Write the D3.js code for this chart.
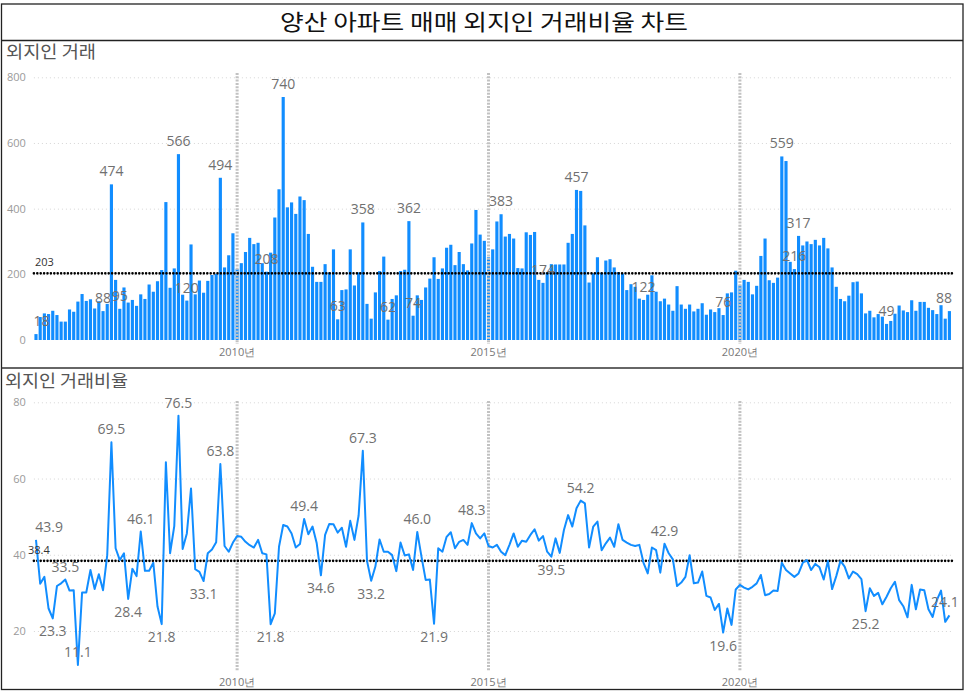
<!DOCTYPE html>
<html><head><meta charset="utf-8">
<script src="https://cdn.jsdelivr.net/npm/d3@7"></script>
<style>
body{margin:0;background:#fff;}
svg{display:block;}
</style></head>
<body>
<svg id="c" width="966" height="692"></svg>
<script>
// ---------- data ----------
const chartTitle = "양산 아파트 매매 외지인 거래비율 차트";
const panel1Title = "외지인 거래";
const panel2Title = "외지인 거래비율";
const startMonth = "2006-01";
const countValues = [18,70,81,79,89,76,56,56,93,86,117,140,119,124,96,118,88,110,474,183,95,160,114,122,104,139,125,169,147,179,213,420,159,218,566,138,120,291,139,181,144,180,198,201,494,221,258,325,216,234,268,311,
292,296,234,208,266,373,459,740,404,419,384,437,426,323,223,177,177,231,206,276,63,152,154,276,166,206,358,110,65,145,210,254,62,125,136,210,214,362,74,136,122,160,187,252,186,218,281,290,228,268,231,212,294,396,321,302,252,
276,361,383,315,323,309,219,218,328,320,329,183,174,206,231,230,230,230,296,323,457,454,349,175,203,252,205,242,246,221,207,202,152,170,162,126,122,138,197,147,118,126,108,89,164,108,95,108,87,95,112,77,93,85,97,76,142,
145,211,166,183,177,139,165,256,309,182,174,190,559,545,238,216,317,288,300,292,305,288,311,279,221,162,125,118,135,176,178,142,81,89,69,79,71,49,58,80,105,90,85,121,89,116,116,98,91,79,106,65,88];
const ratioValues = [43.9,32.4,34.2,25.9,23.3,31.8,32.5,33.5,30.6,30.7,11.1,30.1,30.1,36.0,31.0,34.9,30.7,39.9,69.5,41.7,38.6,40.4,28.4,36.3,34.4,46.1,35.8,35.8,37.9,26.4,21.8,64.3,40.4,47.5,76.5,41.5,45.6,57.4,36.2,35.5,33.1,40.4,41.4,43.3,63.8,42.3,40.8,43.2,44.9,44.7,43.4,42.5,
41.9,43.9,40.4,40.1,21.8,24.6,42.1,47.8,47.4,45.6,41.9,42.8,49.4,45.4,47.4,43.0,34.6,45.2,48.1,48.0,45.8,47.1,42.1,48.9,43.9,50.3,67.3,38.4,33.2,36.9,44.0,40.8,40.8,39.9,35.7,43.2,39.8,40.1,36.0,46.0,39.5,33.4,33.5,21.9,41.7,40.8,44.7,45.9,41.7,43.4,43.9,42.6,48.3,45.6,44.3,45.6,42.3,
41.9,42.6,40.8,39.9,42.6,45.6,42.1,43.7,43.4,45.2,46.7,43.7,44.9,40.8,39.5,44.3,40.5,46.5,50.4,47.4,52.2,54.2,53.5,41.9,47.4,48.7,41.2,43.0,44.5,42.1,48.0,43.9,43.2,42.6,42.3,42.6,37.9,35.1,41.9,41.2,35.3,42.9,40.4,38.8,31.8,32.7,34.2,39.9,32.5,32.7,35.6,29.2,28.8,25.5,27.1,19.6,25.9,
21.6,30.9,32.1,31.4,30.9,31.6,32.5,34.7,29.4,29.7,30.6,30.5,37.9,36.0,35.1,34.2,35.1,37.9,38.6,36.0,37.6,36.7,33.5,38.4,31.0,34.4,38.4,36.9,33.8,35.6,34.9,33.6,25.2,31.2,29.2,30.0,27.0,29.0,31.2,32.9,28.1,26.5,23.6,32.1,25.7,30.9,30.7,25.7,23.7,28.1,30.6,22.4,24.1];
const countAverage = 203;
const ratioAverage = 38.4;
const countTicks = [0,200,400,600,800];
const ratioTicks = [20,40,60,80];
const tickYears = [2010,2015,2020];
const yearSuffix = "년";
const countLabelIdx = [0,16,18,20,34,36,44,55,59,72,78,84,89,90,111,121,129,145,164,178,181,182,203,218];
const ratioLabelIdx = [0,4,7,10,18,22,25,30,34,40,44,56,64,68,78,80,91,95,104,123,130,150,164,198,218];

// ---------- layout ----------
const svg = d3.select("#c");
const BLUE = "#118DFF";
const numFont = "'Segoe UI','Open Sans','Noto Sans',sans-serif";
const krFont = "'Noto Sans CJK KR','Noto Sans',sans-serif";
const parse = d3.timeParse("%Y-%m");
const t0 = parse(startMonth);
const months = d3.timeMonth.range(t0, d3.timeMonth.offset(t0, countValues.length));
const keys = months.map(d3.timeFormat("%Y-%m"));

const xL = 33.9, xR = 951.5;
const x = d3.scaleBand().domain(keys).range([xL, xR]).paddingInner(0.25).paddingOuter(0.125);
const cx = i => x(keys[i]) + x.bandwidth()/2;
const yearKeys = tickYears.map(yv=>yv+"-01");

// frame
svg.append("rect").attr("x",1.5).attr("y",4).attr("width",961.5).attr("height",685.5)
  .attr("fill","none").attr("stroke","#222").attr("stroke-width",1.3);
svg.append("line").attr("x1",1.5).attr("x2",963).attr("y1",40.5).attr("y2",40.5).attr("stroke","#222").attr("stroke-width",1.3);
svg.append("line").attr("x1",1.5).attr("x2",963).attr("y1",368).attr("y2",368).attr("stroke","#333").attr("stroke-width",1.3);

svg.append("text").attr("x",280).attr("y",30).attr("textLength",408).attr("lengthAdjust","spacingAndGlyphs")
  .attr("font-family",krFont).attr("font-size",22).attr("fill","#111").text(chartTitle);
svg.append("text").attr("x",6).attr("y",58).attr("textLength",90).attr("lengthAdjust","spacingAndGlyphs")
  .attr("font-family",krFont).attr("font-size",17).attr("fill","#555").text(panel1Title);
svg.append("text").attr("x",5).attr("y",387).attr("textLength",123).attr("lengthAdjust","spacingAndGlyphs")
  .attr("font-family",krFont).attr("font-size",17).attr("fill","#555").text(panel2Title);

function panel(cfg){
  const g = svg.append("g");
  g.append("g").attr("transform",`translate(${xL},0)`)
    .call(d3.axisLeft(cfg.y).tickValues(cfg.ticks.filter(t=>t!==0)).tickSize(-(953-xL)).tickFormat(""))
    .call(s=>s.select(".domain").remove())
    .call(s=>s.selectAll("line").attr("stroke","#d6d6d6").attr("stroke-dasharray","1,3"));
  g.append("g").attr("transform",`translate(${xL},0)`)
    .call(d3.axisLeft(cfg.y).tickValues(cfg.ticks).tickSize(0).tickPadding(8))
    .call(s=>s.select(".domain").remove())
    .call(s=>s.selectAll("text").attr("fill","#9a9a9a").attr("font-size",11).attr("font-family",numFont));
  g.append("g").attr("transform",`translate(0,${cfg.axisY})`)
    .call(d3.axisBottom(x).tickValues(yearKeys).tickSize(0).tickPadding(8).tickFormat(k=>k.slice(0,4)+yearSuffix))
    .call(s=>s.select(".domain").remove())
    .call(s=>s.selectAll("text").attr("fill","#777").attr("font-size",11).attr("font-family",numFont));
  return g;
}
function yearLines(g, top, bot){
  g.selectAll(".yl").data(yearKeys).join("line").attr("class","yl")
    .attr("x1",k=>x(k)+x.bandwidth()/2).attr("x2",k=>x(k)+x.bandwidth()/2)
    .attr("y1",top).attr("y2",bot)
    .attr("stroke","#c2c2c2").attr("stroke-width",3).attr("stroke-dasharray","2,1.3");
}
function labelX(i, txt, right){
  const w = txt.length*7.6;
  return Math.max(xL + w/2, Math.min(right - w/2, cx(i)));
}

// ---------- panel 1: bars ----------
const yB = d3.scaleLinear().domain([0,800]).range([340,77.3]);
const g1 = panel({y:yB, ticks:countTicks, axisY:340});
g1.selectAll(".bar").data(countValues).join("rect").attr("class","bar")
  .attr("x",(d,i)=>x(keys[i])).attr("width",x.bandwidth())
  .attr("y",d=>yB(d)).attr("height",d=>yB(0)-yB(d)).attr("fill",BLUE);
yearLines(g1, 73, 344);
g1.append("line").attr("x1",xL).attr("x2",955).attr("y1",yB(countAverage)).attr("y2",yB(countAverage))
  .attr("stroke","#000").attr("stroke-width",2.6).attr("stroke-linecap","round").attr("stroke-dasharray","0,3.4");
g1.append("text").attr("x",35).attr("y",yB(countAverage)-7).attr("font-family",numFont).attr("font-size",11)
  .attr("fill","#333").text(countAverage);
g1.selectAll(".bl").data(countLabelIdx).join("text").attr("class","bl")
  .attr("x",i=>labelX(i, String(countValues[i]), xR))
  .attr("y",i=>yB(countValues[i])-8)
  .attr("text-anchor","middle").attr("font-family",numFont).attr("font-size",14)
  .attr("fill","#707070").text(i=>countValues[i]);

// ---------- panel 2: line ----------
const yR = d3.scaleLinear().domain([20,80]).range([631,402.3]);
const g2 = panel({y:yR, ticks:ratioTicks, axisY:670});
yearLines(g2, 401, 671);
g2.append("line").attr("x1",xL).attr("x2",955).attr("y1",yR(ratioAverage)).attr("y2",yR(ratioAverage))
  .attr("stroke","#000").attr("stroke-width",2.6).attr("stroke-linecap","round").attr("stroke-dasharray","0,3.4");
g2.append("path").datum(ratioValues)
  .attr("d", d3.line().x((d,i)=>cx(i)).y(d=>yR(d)))
  .attr("fill","none").attr("stroke",BLUE).attr("stroke-width",2).attr("stroke-linejoin","round");
g2.append("text").attr("x",28).attr("y",yR(ratioAverage)-7).attr("font-family",numFont).attr("font-size",11)
  .attr("fill","#333").text(ratioAverage.toFixed(1));

const plotBottom = 668;
g2.selectAll(".ll").data(ratioLabelIdx).join("text").attr("class","ll")
  .attr("x",i=>labelX(i, ratioValues[i].toFixed(1), 960))
  .attr("y",i=>{
    const v = ratioValues[i];
    const p = i>0 ? ratioValues[i-1] : -Infinity;
    const n = i<ratioValues.length-1 ? ratioValues[i+1] : -Infinity;
    const top = v>=p && v>=n;
    const yy = yR(v);
    if (top || yy+20 > plotBottom) return yy-8;
    return yy+18;
  })
  .attr("text-anchor","middle").attr("font-family",numFont).attr("font-size",14)
  .attr("fill","#707070").text(i=>ratioValues[i].toFixed(1));
</script>
</body></html>
